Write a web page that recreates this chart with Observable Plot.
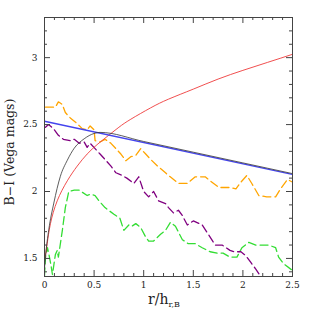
<!DOCTYPE html>
<html><head><meta charset="utf-8">
<script src="https://cdn.jsdelivr.net/npm/d3@7"></script>
<script src="https://cdn.jsdelivr.net/npm/@observablehq/plot@0.6"></script>
<style>body{margin:0;background:#fff}</style>
</head><body><div id="chart"></div>
<script>
const xMajor = [0, 0.5, 1, 1.5, 2, 2.5];
const xMinor = [0.1,0.2,0.3,0.4,0.6,0.7,0.8,0.9,1.1,1.2,1.3,1.4,1.6,1.7,1.8,1.9,2.1,2.2,2.3,2.4];
const yMajor = [1.5, 2, 2.5, 3];
const yMinor = [1.4,1.6,1.7,1.8,1.9,2.1,2.2,2.3,2.4,2.6,2.7,2.8,2.9,3.1,3.2,3.3];

const redX = [0.005,0.027,0.06,0.128,0.23,0.33,0.43,0.53,0.63,0.75,0.87,1.07,1.25,1.5,1.75,2.0,2.25,2.5];
const redY = [1.50,1.61,1.76,1.93,2.08,2.19,2.28,2.35,2.41,2.48,2.54,2.625,2.69,2.765,2.84,2.905,2.965,3.025];

const blackX = [0.0,0.01,0.043,0.094,0.16,0.23,0.30,0.40,0.50,0.56,1.0,1.5,2.0,2.5];
const blackY = [1.42,1.51,1.71,1.91,2.11,2.23,2.32,2.39,2.43,2.438,2.37,2.29,2.21,2.13];

const blueX = [0, 2.5];
const blueY = [2.525, 2.127];

const orangeX = [0.01,0.03,0.11,0.14,0.18,0.21,0.26,0.31,0.38,0.43,0.46,0.50,0.51,0.56,0.61,0.67,0.72,0.77,0.82,0.87,0.92,0.97,1.02,1.07,1.14,1.22,1.25,1.35,1.44,1.52,1.62,1.67,1.76,1.87,1.93,1.98,2.04,2.09,2.16,2.24,2.33,2.38,2.45,2.5];
const orangeY = [2.63,2.63,2.63,2.67,2.65,2.59,2.55,2.52,2.47,2.46,2.49,2.46,2.38,2.37,2.39,2.36,2.32,2.28,2.23,2.26,2.27,2.32,2.28,2.24,2.19,2.14,2.12,2.06,2.06,2.11,2.11,2.08,2.03,2.03,2.02,2.07,2.12,2.06,1.97,1.96,1.96,2.02,2.09,2.07];

const purpleX = [0.01,0.04,0.09,0.14,0.19,0.26,0.30,0.35,0.40,0.43,0.46,0.51,0.56,0.61,0.67,0.72,0.77,0.83,0.90,0.95,1.0,1.05,1.10,1.15,1.22,1.25,1.30,1.35,1.39,1.44,1.50,1.59,1.66,1.72,1.79,1.87,1.91,1.98,2.03,2.08,2.13,2.18];
const purpleY = [2.48,2.50,2.47,2.42,2.39,2.38,2.39,2.36,2.37,2.33,2.36,2.32,2.28,2.24,2.19,2.14,2.125,2.10,2.06,2.11,2.0,1.96,2.0,1.93,1.91,1.88,1.84,1.86,1.82,1.75,1.78,1.75,1.67,1.60,1.60,1.56,1.55,1.55,1.52,1.47,1.42,1.365];

const greenX = [0.0,0.01,0.03,0.05,0.065,0.08,0.11,0.128,0.14,0.18,0.21,0.245,0.30,0.35,0.38,0.43,0.46,0.51,0.55,0.61,0.70,0.76,0.80,0.85,0.88,0.92,0.97,1.02,1.05,1.10,1.17,1.22,1.27,1.32,1.39,1.45,1.52,1.59,1.67,1.74,1.80,1.87,1.94,1.99,2.06,2.13,2.26,2.33,2.36,2.41,2.5];
const greenY = [1.37,1.51,1.58,1.51,1.45,1.38,1.53,1.56,1.51,1.71,1.88,2.0,2.01,2.01,1.995,1.97,1.98,1.97,1.93,1.88,1.83,1.80,1.71,1.75,1.74,1.76,1.73,1.66,1.63,1.63,1.68,1.71,1.77,1.74,1.64,1.61,1.61,1.58,1.55,1.54,1.54,1.51,1.51,1.58,1.62,1.60,1.60,1.58,1.51,1.46,1.41];

const pts = (xs, ys) => xs.map((x, i) => ({x, y: ys[i]}));

const W = 309, H = 309, mL = 44, mR = 17, mT = 17, mB = 33;
const iw = W - mL - mR, ih = H - mT - mB;
const font = "DejaVu Serif";
const axisColor = "#444";

const plot = Plot.plot({
  width: W, height: H,
  marginLeft: mL, marginRight: mR, marginTop: mT, marginBottom: mB,
  style: {fontFamily: font, fontSize: "9px", color: "#222", background: "#fff"},
  x: {domain: [0, 2.5], label: null},
  y: {domain: [1.365, 3.3], label: null},
  marks: [
    Plot.line(pts(greenX, greenY), {x: "x", y: "y", stroke: "#33dd33", strokeWidth: 1.3, strokeDasharray: "8,4", clip: true}),
    Plot.line(pts(purpleX, purpleY), {x: "x", y: "y", stroke: "#800080", strokeWidth: 1.3, strokeDasharray: "8,4", clip: true}),
    Plot.line(pts(orangeX, orangeY), {x: "x", y: "y", stroke: "#ffa500", strokeWidth: 1.3, strokeDasharray: "8,4", clip: true}),
    Plot.line(pts(redX, redY), {x: "x", y: "y", stroke: "#ee3b3b", strokeWidth: 0.9, curve: "natural", clip: true}),
    Plot.line(pts(blueX, blueY), {x: "x", y: "y", stroke: "#4444ee", strokeWidth: 1.4, clip: true}),
    Plot.line(pts(blackX, blackY), {x: "x", y: "y", stroke: "#333", strokeWidth: 0.8, curve: "monotone-x", clip: true, dy: -0.5}),
    Plot.frame({stroke: axisColor, strokeWidth: 1}),
    Plot.ruleX(xMajor, {x: d => d, insetTop: ih - 6, stroke: axisColor}),
    Plot.ruleX(xMinor, {x: d => d, insetTop: ih - 3, stroke: axisColor}),
    Plot.ruleX(xMajor, {x: d => d, insetBottom: ih - 6, stroke: axisColor}),
    Plot.ruleX(xMinor, {x: d => d, insetBottom: ih - 3, stroke: axisColor}),
    Plot.ruleY(yMajor, {y: d => d, insetRight: iw - 6, stroke: axisColor}),
    Plot.ruleY(yMinor, {y: d => d, insetRight: iw - 3, stroke: axisColor}),
    Plot.ruleY(yMajor, {y: d => d, insetLeft: iw - 6, stroke: axisColor}),
    Plot.ruleY(yMinor, {y: d => d, insetLeft: iw - 3, stroke: axisColor}),
    Plot.axisX(xMajor, {tickSize: 0, tickPadding: 5, tickFormat: d => String(d), label: null}),
    Plot.axisY(yMajor, {tickSize: 0, tickPadding: 7, tickFormat: d => String(d), label: null})
  ]
});

const svg = d3.select(plot);
const xl = svg.append("text")
  .attr("x", 164).attr("y", 304)
  .attr("text-anchor", "middle")
  .attr("font-family", font).attr("font-size", 14).attr("fill", "#222");
xl.append("tspan").text("r/h");
xl.append("tspan").attr("font-size", 8).attr("dy", 3).text("r,B");

svg.append("text")
  .attr("transform", "translate(14,152) rotate(-90)")
  .attr("text-anchor", "middle")
  .attr("font-family", font).attr("font-size", 12.5).attr("fill", "#222")
  .text("B\u2212I (Vega mags)");

document.getElementById("chart").appendChild(plot);
</script>
</body></html>
